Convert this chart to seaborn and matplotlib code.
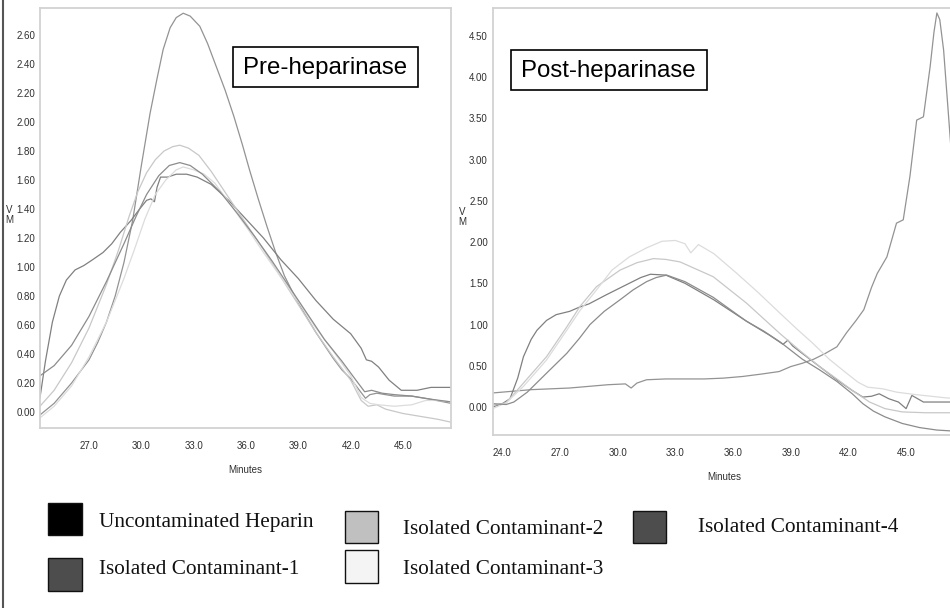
import numpy as np
import pandas as pd
import matplotlib
matplotlib.use("Agg")
import matplotlib.pyplot as plt
from matplotlib.patches import Rectangle
from matplotlib.lines import Line2D
from matplotlib.ticker import MultipleLocator, FormatStrFormatter
import seaborn as sns

sns.set_theme(style="white")
plt.rcParams["font.family"] = ["Liberation Sans Narrow", "Liberation Sans", "DejaVu Sans"]

# ---------------- data ----------------
samples = ["Uncontaminated Heparin", "Isolated Contaminant-1", "Isolated Contaminant-2",
           "Isolated Contaminant-3", "Isolated Contaminant-4"]
legend_colors = ["#000000", "#4d4d4d", "#c0c0c0", "#f4f4f4", "#4d4d4d"]
trace_colors = ["#939393", "#808080", "#c8c8c8", "#dcdcdc", "#8c8c8c"]

# Pre-heparinase traces (minutes, detector response)
pre_hep_t = [24.19, 25.0, 26.0, 27.0, 27.5, 28.0, 28.5, 29.0, 29.5, 30.0, 30.5, 30.9, 31.25,
             31.65, 32.0, 32.4, 32.8, 33.35, 33.8, 34.3, 34.8, 35.3, 35.8, 36.2, 36.7, 37.2,
             37.7, 38.2, 38.7, 39.1, 39.6, 40.0, 40.5, 41.0, 41.5, 42.0, 42.5, 42.85, 43.1, 43.5,
             44.5, 45.5, 46.5, 47.75]
pre_hep_v = [-0.02, 0.06, 0.20, 0.36, 0.48, 0.62, 0.80, 1.03, 1.32, 1.70, 2.06, 2.30, 2.50,
             2.65, 2.72, 2.75, 2.73, 2.66, 2.54, 2.38, 2.22, 2.04, 1.84, 1.67, 1.47, 1.28,
             1.10, 0.94, 0.82, 0.73, 0.63, 0.55, 0.46, 0.37, 0.29, 0.23, 0.15, 0.095, 0.12, 0.13,
             0.11, 0.11, 0.09, 0.06]

pre_c1_t = [24.19, 24.5, 24.9, 25.3, 25.7, 26.2, 26.7, 27.2, 27.8, 28.3, 28.8, 29.4, 29.9, 30.3,
            30.55, 30.75, 30.9, 31.1, 31.5, 32.0, 32.6, 33.2, 34.0, 35.0, 36.0, 37.0, 38.0, 39.0,
            40.0, 41.0, 42.0, 42.6, 42.9, 43.2, 43.6, 44.2, 44.9, 45.8, 46.6, 47.75]
pre_c1_v = [0.10, 0.35, 0.62, 0.80, 0.91, 0.98, 1.01, 1.05, 1.10, 1.16, 1.24, 1.32, 1.40, 1.46,
            1.47, 1.45, 1.55, 1.62, 1.62, 1.64, 1.64, 1.62, 1.57, 1.46, 1.33, 1.20, 1.05, 0.92,
            0.77, 0.64, 0.54, 0.44, 0.36, 0.35, 0.31, 0.22, 0.15, 0.15, 0.17, 0.17]

pre_c2_t = [24.19, 25.0, 26.0, 27.0, 28.0, 28.7, 29.3, 29.8, 30.3, 30.8, 31.3, 31.8, 32.2, 32.7,
            33.3, 34.0, 35.0, 36.0, 37.0, 38.0, 39.0, 40.0, 41.0, 42.0, 42.6, 43.0, 43.5, 44.0,
            45.0, 46.0, 47.0, 47.75]
pre_c2_v = [0.04, 0.15, 0.34, 0.58, 0.88, 1.12, 1.35, 1.52, 1.65, 1.74, 1.80, 1.83, 1.84, 1.82,
            1.77, 1.66, 1.48, 1.30, 1.12, 0.93, 0.74, 0.55, 0.38, 0.22, 0.08, 0.04, 0.05, 0.02,
            -0.01, -0.03, -0.05, -0.07]

pre_c3_t = [24.19, 25.0, 26.0, 27.0, 28.0, 29.0, 29.6, 30.2, 30.8, 31.4, 32.0, 32.4, 33.0, 33.6,
            34.2, 35.0, 36.0, 37.0, 38.0, 39.0, 40.0, 41.0, 42.0, 42.6, 43.1, 43.6, 44.5, 45.5,
            46.3, 47.0, 47.75]
pre_c3_v = [-0.04, 0.04, 0.18, 0.38, 0.62, 0.92, 1.12, 1.33, 1.50, 1.60, 1.67, 1.69, 1.67, 1.64,
            1.58, 1.45, 1.28, 1.10, 0.93, 0.76, 0.58, 0.42, 0.25, 0.10, 0.06, 0.05, 0.04, 0.05,
            0.08, 0.08, 0.07]

pre_c4_t = [24.19, 25.0, 26.0, 27.0, 28.0, 29.0, 29.7, 30.3, 31.0, 31.6, 32.2, 32.8, 33.5, 34.5,
            35.5, 36.5, 37.5, 38.5, 39.5, 40.5, 41.5, 42.3, 42.8, 43.2, 43.8, 44.5, 45.5, 46.5,
            47.75]
pre_c4_v = [0.25, 0.32, 0.46, 0.66, 0.90, 1.16, 1.35, 1.50, 1.63, 1.70, 1.72, 1.70, 1.64, 1.52,
            1.37, 1.21, 1.04, 0.86, 0.68, 0.50, 0.35, 0.22, 0.14, 0.15, 0.13, 0.12, 0.11, 0.09,
            0.07]

# Post-heparinase traces
post_hep_t = [23.5, 24.5, 25.5, 26.5, 27.5, 28.5, 29.5, 30.4, 30.7, 31.0, 31.5, 32.5, 33.5, 34.5,
              35.5, 36.5, 37.5, 38.4, 39.0, 39.6, 40.2, 40.8, 41.4, 41.9, 42.4, 42.8, 43.2, 43.5,
              44.0, 44.5, 44.85, 45.2, 45.55, 45.9, 46.25, 46.45, 46.6, 46.75, 46.95, 47.3, 47.6,
              48.0]
post_hep_v = [0.17, 0.19, 0.21, 0.22, 0.23, 0.25, 0.27, 0.28, 0.23, 0.29, 0.33, 0.34, 0.34, 0.34,
              0.35, 0.37, 0.40, 0.43, 0.49, 0.53, 0.58, 0.65, 0.73, 0.90, 1.05, 1.18, 1.45, 1.62,
              1.82, 2.23, 2.27, 2.80, 3.48, 3.52, 4.13, 4.55, 4.78, 4.70, 4.33, 3.24, 2.30, 1.50]

post_c1_t = [23.5, 24.0, 24.4, 24.8, 25.1, 25.5, 25.8, 26.3, 26.8, 27.5, 28.0, 28.5, 29.4, 30.0,
             30.6, 31.2, 31.7, 32.5, 33.5, 35.0, 36.7, 37.9, 38.6, 38.85, 39.1, 39.6, 40.5, 41.4,
             42.2, 42.75, 43.2, 43.6, 44.1, 44.6, 45.0, 45.3, 45.9, 47.3, 48.0]
post_c1_v = [0.0, 0.04, 0.10, 0.35, 0.61, 0.82, 0.93, 1.05, 1.12, 1.16, 1.21, 1.25, 1.36, 1.43,
             1.50, 1.57, 1.61, 1.60, 1.50, 1.30, 1.04, 0.87, 0.76, 0.81, 0.74, 0.65, 0.49, 0.33,
             0.20, 0.12, 0.13, 0.16, 0.10, 0.06, -0.02, 0.14, 0.06, 0.06, 0.06]

post_c2_t = [23.5, 24.2, 25.1, 26.3, 27.35, 28.04, 28.9, 30.12, 31.0, 31.86, 32.5, 33.24, 34.97,
             36.7, 38.44, 39.6, 40.5, 41.4, 42.2, 43.1, 43.9, 44.8, 46.0, 48.0]
post_c2_v = [0.02, 0.05, 0.29, 0.61, 0.97, 1.22, 1.46, 1.66, 1.75, 1.80, 1.79, 1.76, 1.58,
             1.26, 0.89, 0.66, 0.49, 0.34, 0.20, 0.06, -0.02, -0.06, -0.07, -0.07]

post_c3_t = [23.5, 24.2, 25.1, 26.3, 27.35, 28.04, 28.9, 29.7, 30.6, 31.5, 32.3, 33.0, 33.5, 33.8,
             34.2, 35.0, 36.2, 37.3, 38.43, 39.3, 40.16, 41.0, 41.9, 42.5, 43.0, 43.8, 44.5, 45.5,
             47.1, 48.0]
post_c3_v = [-0.02, 0.05, 0.25, 0.57, 0.93, 1.17, 1.42, 1.66, 1.82, 1.93, 2.01, 2.02, 1.98, 1.87,
             1.97, 1.86, 1.62, 1.39, 1.14, 0.95, 0.77, 0.58, 0.41, 0.30, 0.24, 0.22, 0.18, 0.15,
             0.11, 0.10]

post_c4_t = [23.5, 24.2, 24.6, 25.3, 26.3, 27.35, 28.0, 28.56, 29.3, 30.12, 30.8, 31.5, 32.0,
             32.55, 33.5, 34.97, 36.7, 37.6, 38.44, 39.6, 40.5, 41.4, 42.2, 42.75, 43.3, 43.9,
             44.8, 45.7, 46.6, 48.0]
post_c4_v = [0.04, 0.03, 0.06, 0.18, 0.41, 0.65, 0.83, 1.00, 1.16, 1.30, 1.42, 1.52, 1.57,
             1.60, 1.52, 1.33, 1.04, 0.92, 0.79, 0.58, 0.45, 0.31, 0.16, 0.04, -0.05, -0.12,
             -0.20, -0.25, -0.28, -0.30]

left_ticks_x = [27.0, 30.0, 33.0, 36.0, 39.0, 42.0, 45.0]
right_ticks_x = [24.0, 27.0, 30.0, 33.0, 36.0, 39.0, 42.0, 45.0]


def long_frame(traces):
    rows = []
    for name, (t, v) in zip(samples, traces):
        rows.append(pd.DataFrame({"Minutes": t, "VM": v, "Sample": name}))
    return pd.concat(rows, ignore_index=True)


pre_df = long_frame([(pre_hep_t, pre_hep_v), (pre_c1_t, pre_c1_v), (pre_c2_t, pre_c2_v),
                     (pre_c3_t, pre_c3_v), (pre_c4_t, pre_c4_v)])
post_df = long_frame([(post_hep_t, post_hep_v), (post_c1_t, post_c1_v), (post_c2_t, post_c2_v),
                      (post_c3_t, post_c3_v), (post_c4_t, post_c4_v)])
palette = dict(zip(samples, trace_colors))

# ---------------- figure ----------------
W, H = 950, 608
fig = plt.figure(figsize=(W / 100, H / 100), dpi=100)
fig.patch.set_facecolor("white")


def fx(px):
    return px / W


def fy(py):
    return 1 - py / H


ax1 = fig.add_axes([fx(40), fy(428), fx(451) - fx(40), fy(8) - fy(428)])
ax2 = fig.add_axes([fx(492.7), fy(435), fx(963.8) - fx(492.7), fy(8) - fy(435)])

for ax, df in ((ax1, pre_df), (ax2, post_df)):
    sns.lineplot(data=df, x="Minutes", y="VM", hue="Sample", palette=palette,
                 estimator=None, sort=False, legend=False, linewidth=0.9, ax=ax)
    ax.set_xlabel("")
    ax.set_ylabel("")
    for sp in ax.spines.values():
        sp.set_color("#d2d2d2")
        sp.set_linewidth(1.3)
    ax.tick_params(axis="y", which="major", direction="out", length=2.5, width=0.8,
                   color="#b5b5b5", labelsize=7, labelcolor="#303030", pad=1)
    ax.tick_params(axis="x", which="major", direction="out", length=3.5, width=0.8,
                   color="#b5b5b5", labelsize=7, labelcolor="#303030", pad=6)
    ax.tick_params(axis="both", which="minor", direction="out", length=2, width=0.6,
                   color="#c8c8c8")
    ax.xaxis.set_major_formatter(FormatStrFormatter("%.1f"))
    ax.yaxis.set_major_formatter(FormatStrFormatter("%.2f"))

ax1.set_xlim(24.19, 47.75)
ax1.set_ylim(-0.11, 2.786)
ax1.set_xticks(left_ticks_x)
ax1.xaxis.set_minor_locator(MultipleLocator(0.6))
ax1.yaxis.set_major_locator(MultipleLocator(0.2))
ax1.yaxis.set_minor_locator(MultipleLocator(0.04))

ax2.set_xlim(23.5, 48.0)
ax2.set_ylim(-0.34, 4.84)
ax2.set_xticks(right_ticks_x)
ax2.xaxis.set_minor_locator(MultipleLocator(0.6))
ax2.yaxis.set_major_locator(MultipleLocator(0.5))
ax2.yaxis.set_minor_locator(MultipleLocator(0.1))

# axis titles
axis_font = dict(fontsize=7, color="#303030")
fig.text(fx(245), fy(470), "Minutes", ha="center", va="center", **axis_font)
fig.text(fx(724), fy(477), "Minutes", ha="center", va="center", **axis_font)
fig.text(fx(9), fy(215), "V\nM", ha="center", va="center", linespacing=1.1, **axis_font)
fig.text(fx(462), fy(217), "V\nM", ha="center", va="center", linespacing=1.1, **axis_font)

# panel captions in framed boxes
box_font = dict(fontsize=17.3, family=["Liberation Sans", "DejaVu Sans"], color="black")
for (x0, y0, x1, y1), label in (((233, 47, 418, 87), "Pre-heparinase"),
                                ((510.7, 50, 706.7, 90), "Post-heparinase")):
    fig.add_artist(Rectangle((fx(x0), fy(y1)), fx(x1) - fx(x0), fy(y0) - fy(y1),
                             transform=fig.transFigure, facecolor="white",
                             edgecolor="black", linewidth=1.2, zorder=5))
    fig.text(fx((x0 + x1) / 2), fy((y0 + y1) / 2 + 1), label, ha="center", va="center",
             zorder=6, **box_font)

# legend swatches
swatch_boxes = [(48, 503, 82, 535), (48, 558, 82, 591), (345, 511, 378, 543),
                (345, 550, 378, 583), (633, 511, 666, 543)]
label_anchor = [(99, 522), (99, 570), (403, 529), (403, 569), (698, 528)]
for (x0, y0, x1, y1), (tx, ty), name, col in zip(swatch_boxes, label_anchor, samples,
                                                   legend_colors):
    fig.add_artist(Rectangle((fx(x0), fy(y1)), fx(x1) - fx(x0), fy(y0) - fy(y1),
                             transform=fig.transFigure, facecolor=col,
                             edgecolor="#111111", linewidth=1.0))
    fig.text(fx(tx), fy(ty), name, ha="left", va="center", fontsize=15.3,
             family=["Liberation Serif", "DejaVu Serif"], color="#111111")

# frame line on the left edge
fig.add_artist(Line2D([fx(2.5), fx(2.5)], [0, 1], transform=fig.transFigure,
                      color="#555555", linewidth=1.5))

fig.savefig("out.png", dpi=100)
